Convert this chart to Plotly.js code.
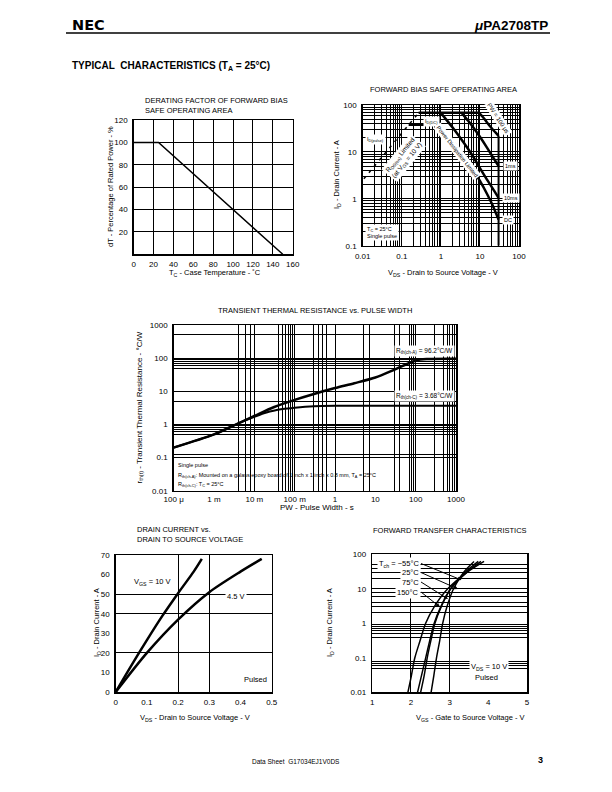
<!DOCTYPE html>
<html><head><meta charset="utf-8">
<script src="https://cdn.plot.ly/plotly-3.0.1.min.js"></script>
<style>body{margin:0;background:#fff}#c{width:612px;height:792px}</style>
</head><body><div id="c"></div>
<script>
// ---------- Chart 1: derating ----------
const derateTc = [0, 25, 150];
const deratePct = [100, 100, 0];
const derateXTicks = [0, 20, 40, 60, 80, 100, 120, 140, 160];
const derateYTicks = [20, 40, 60, 80, 100, 120];

// ---------- Chart 2: forward bias SOA ----------
const soaXTicks = [0.01, 0.1, 1, 10, 100];
const soaXTickText = ['0.01', '0.1', '1', '10', '100'];
const soaYTicks = [0.1, 1, 10, 100];
const soaYTickText = ['0.1', '1', '10', '100'];
const soaXGrid = [0.02,0.03,0.04,0.05,0.06,0.07,0.08,0.09,0.1,0.2,0.3,0.4,0.5,0.6,0.7,0.8,0.9,1,2,3,4,5,6,7,8,9,10,20,30,40,50,60,70,80,90];
const soaYGrid = [0.2,0.3,0.4,0.5,0.6,0.7,0.8,0.9,1,2,3,4,5,6,7,8,9,10,20,30,40,50,60,70,80,90];
const rdsVds = [0.0107, 0.27];
const rdsId = [2.67, 68];
const idPulseVds = [0.27, 9.5];
const idPulseId = [68, 68];
const idDcVds = [0.15, 0.9];
const idDcId = [38, 38];
const pw100Vds = [9.5, 12, 15, 20, 25, 30];
const pw100Id = [68, 55, 43, 32, 26, 22];
const pw1mVds = [3.4, 5, 7, 10, 15, 20, 30];
const pw1mId = [68, 46, 32, 21, 12.5, 8.5, 5];
const pw10mVds = [1.0, 2, 3, 5, 7, 10, 15, 20, 30];
const pw10mId = [68, 33, 21, 11.5, 7.5, 4.5, 2.6, 1.8, 1.05];
const dcVds = [0.9, 2, 3, 5, 7, 10, 15, 20, 30];
const dcId = [38, 17, 11, 6, 3.9, 2.4, 1.3, 0.8, 0.36];
const vdssVds = [30, 30];
const vdssId = [0.1, 22];

// ---------- Chart 3: transient thermal resistance ----------
const thXTicks = [1e-4, 1e-3, 1e-2, 1e-1, 1, 10, 100, 1000];
const thXTickText = ['100 \u03bc', '1 m', '10 m', '100 m', '1', '10', '100', '1000'];
const thYTicks = [0.01, 0.1, 1, 10, 100, 1000];
const thYTickText = ['0.01', '0.1', '1', '10', '100', '1000'];
const thXGrid = [0.004,0.006,0.008,0.01,0.04,0.05,0.06,0.07,0.08,0.09,0.1,0.3,0.4,0.5,0.6,1,5,7,30,40,70,80,90,100,300,500,600,700,800,900];
const thYGrid = [0.1,0.12,0.5,0.6,0.7,0.8,0.9,1,5,10,50,60,70,80,90,100,500];
const pw = [1e-4, 1e-3, 4e-3, 1e-2, 3e-2, 0.1, 0.3, 1, 3, 10, 30, 100, 200, 1000];
const rthChA = [0.2, 0.5, 1.08, 1.8, 3.3, 5.5, 8.3, 12.5, 17.5, 26, 45, 85, 94, 96.2];
const pwC = [1e-4, 1e-3, 4e-3, 1e-2, 2e-2, 5e-2, 0.1, 0.3, 1, 10, 1000];
const rthChC = [0.2, 0.5, 1.08, 1.7, 2.3, 2.9, 3.2, 3.55, 3.66, 3.68, 3.68];

// ---------- Chart 4: drain current vs VDS ----------
const vdsTicks = [0, 0.1, 0.2, 0.3, 0.4, 0.5];
const vdsTickText = ['0', '0.1', '0.2', '0.3', '0.4', '0.5'];
const idTicks = [0, 10, 20, 30, 40, 50, 60, 70];
const vdsGrid = [0.2, 0.3];
const idGrid = [20, 40, 50];
const vds10 = [0, 0.05, 0.1, 0.15, 0.2, 0.25, 0.276];
const id10 = [0, 13.5, 26.5, 39, 50.5, 61.5, 68];
const vds45 = [0, 0.1, 0.2, 0.3, 0.4, 0.468];
const id45 = [0, 20, 37, 51, 61.5, 68];

// ---------- Chart 5: forward transfer ----------
const vgsTicks = [1, 2, 3, 4, 5];
const ftYTicks = [0.01, 0.1, 1, 10, 100];
const ftYTickText = ['0.01', '0.1', '1', '10', '100'];
const vgsGrid = [2, 3];
const ftYGrid = [0.05,0.06,0.07,0.08,0.4,0.5,0.6,0.7,0.8,0.9,2,3,4,6,8,10,20,30,40,50];
const ftId = [0.01, 0.03, 0.1, 0.3, 1, 3, 10, 30, 62];
const vgsM55 = [2.52, 2.59, 2.66, 2.74, 2.82, 2.93, 3.10, 3.36, 3.63];
const vgs25 = [2.25, 2.34, 2.42, 2.51, 2.62, 2.78, 3.02, 3.40, 3.74];
const vgs75 = [2.17, 2.27, 2.38, 2.48, 2.60, 2.77, 3.03, 3.44, 3.81];
const vgs150 = [1.92, 2.01, 2.10, 2.23, 2.38, 2.60, 2.95, 3.45, 3.89];

// ================= rendering =================
const F = 'Liberation Sans, Arial, Helvetica, sans-serif';
const W = 612, H = 792;
const PX = x => x / W, PY = y => 1 - y / H;
const K = '#000';

function axis(l, r, extra) {
  return Object.assign({
    domain: [l / W, r / W], showline: true, mirror: true, linecolor: K, linewidth: 1.5,
    ticks: '', zeroline: false, showgrid: true, gridcolor: K, gridwidth: 1,
    tickfont: {family: F, size: 8, color: K}, fixedrange: true, ticklabelstandoff: 2
  }, extra);
}
function yaxis(top, bottom, extra) {
  return Object.assign({
    domain: [1 - bottom / H, 1 - top / H], showline: true, mirror: true, linecolor: K, linewidth: 1.5,
    ticks: '', zeroline: false, showgrid: true, gridcolor: K, gridwidth: 1,
    tickfont: {family: F, size: 8, color: K}, fixedrange: true, ticklabelstandoff: 3
  }, extra);
}
function minor(vals) { return {tickmode: 'array', tickvals: vals, showgrid: true, gridcolor: K, gridwidth: 1, ticks: ''}; }

const traces = [];
function line(x, y, xa, ya, w, dash, smooth) {
  traces.push({x, y, xaxis: xa, yaxis: ya, mode: 'lines',
    line: {color: K, width: w, dash: dash || 'solid', shape: smooth ? 'spline' : 'linear', smoothing: smooth || 0},
    hoverinfo: 'skip', cliponaxis: true});
}
// chart 1
line(derateTc, deratePct, 'x', 'y', 1.5);
// chart 2
line(rdsVds, rdsId, 'x2', 'y2', 1.5, '3px,5px');
line(idPulseVds, idPulseId, 'x2', 'y2', 2.5);
line(idDcVds, idDcId, 'x2', 'y2', 2.5);
line(pw100Vds, pw100Id, 'x2', 'y2', 2.5, null, 0.8);
line(pw1mVds, pw1mId, 'x2', 'y2', 2.5, null, 0.8);
line(pw10mVds, pw10mId, 'x2', 'y2', 2.5, null, 0.8);
line(dcVds, dcId, 'x2', 'y2', 2.5, null, 0.8);
line(vdssVds, vdssId, 'x2', 'y2', 2);
// chart 3
line(pw, rthChA, 'x3', 'y3', 2.5, null, 0.8);
line(pwC, rthChC, 'x3', 'y3', 2, null, 0.8);
// chart 4
line(vds10, id10, 'x4', 'y4', 2.5, null, 0.8);
line(vds45, id45, 'x4', 'y4', 2.5, null, 0.8);
// chart 5
line(vgsM55, ftId, 'x5', 'y5', 1.5, null, 0.8);
line(vgs25, ftId, 'x5', 'y5', 1.5, null, 0.8);
line(vgs75, ftId, 'x5', 'y5', 1.5, null, 0.8);
line(vgs150, ftId, 'x5', 'y5', 1.5, null, 0.8);

const ann = [];
function T(text, x, y, o) {
  ann.push(Object.assign({text, x: PX(x), y: PY(y), xref: 'paper', yref: 'paper', showarrow: false,
    font: {family: F, size: 7.5, color: K}, xanchor: 'center', yanchor: 'middle'}, o || {}));
}
// header
T('NEC', 70, 25, {xanchor: 'left', font: {family: 'DejaVu Sans, ' + F, size: 14.5, color: K, weight: 'bold'}});
T('<i>\u03bc</i>PA2708TP', 550, 25, {xanchor: 'right', font: {family: F, size: 13.5, color: K, weight: 'bold'}});
T('TYPICAL  CHARACTERISTICS (T<sub>A</sub> = 25\u00b0C)', 70, 66, {xanchor: 'left', font: {family: F, size: 10, color: K, weight: 'bold'}});
T('Data Sheet  G17034EJ1V0DS', 296, 761, {font: {family: F, size: 6.5, color: K}});
T('3', 540, 760, {font: {family: F, size: 9, color: K, weight: 'bold'}});

// chart 1 texts
T('DERATING FACTOR OF FORWARD BIAS<br>SAFE OPERATING AREA', 143, 105, {xanchor: 'left', align: 'left'});
T('dT - Percentage of Rated Power - %', 110, 187, {textangle: -90});
T('T<sub>C</sub> - Case Temperature - \u02daC', 215, 272.5);
// chart 2 texts
T('FORWARD BIAS SAFE OPERATING AREA', 443, 89.5);
T('I<sub>D</sub> - Drain Current - A', 337, 175, {textangle: -90});
T('V<sub>DS</sub> - Drain to Source Voltage - V', 443, 272.5);
const sm = {family: F, size: 5.5, color: K};
T('I<sub>D(pulse)</sub>', 375, 139.5, {font: sm, bgcolor: '#fff'});
T('I<sub>D(DC)</sub>', 431.5, 121, {font: sm, bgcolor: '#fff'});
T('R<sub>DS(on)</sub> Limited<br>(at V<sub>GS</sub> = 10 V)', 403, 158, {font: {family: F, size: 6.5, color: K}, textangle: -51, bgcolor: '#fff'});
T('Power Dissipation Limited', 457, 151, {font: sm, textangle: 52, bgcolor: '#fff'});
T('PW = 100 \u03bcs', 498, 118, {font: {family: F, size: 6, color: K}, textangle: 57, bgcolor: '#fff'});
T('1ms', 510.5, 166, {font: sm, bgcolor: '#fff'});
T('10ms', 510.5, 197.5, {font: sm, bgcolor: '#fff'});
T('DC', 507.5, 220, {font: sm, bgcolor: '#fff'});
T('T<sub>C</sub> = 25\u00b0C<br>Single pulse', 365, 233, {xanchor: 'left', align: 'left', font: sm, bgcolor: '#fff'});
// chart 3 texts
T('TRANSIENT THERMAL RESISTANCE vs. PULSE WIDTH', 315, 310.5);
T('r<sub>th(t)</sub> - Transient Thermal Resistance - \u00b0C/W', 139.5, 408, {textangle: -90, font: {family: F, size: 8, color: K}});
T('PW - Pulse Width - s', 316.5, 507, {font: {family: F, size: 8, color: K}});
T('R<sub>th(ch-A)</sub> = 96.2\u00b0C/W', 455, 351, {xanchor: 'right', font: {family: F, size: 6.5, color: K}, bgcolor: '#fff'});
T('R<sub>th(ch-C)</sub> = 3.68\u00b0C/W', 455, 396, {xanchor: 'right', font: {family: F, size: 6.5, color: K}, bgcolor: '#fff'});
T('Single pulse', 176, 464.5, {xanchor: 'left', font: {family: F, size: 5.5, color: K}});
T('R<sub>th(ch-A)</sub>: Mounted on a galass epoxy board of 1 inch x 1 inch x 0.8 mm, T<sub>A</sub> = 25\u00b0C', 176, 475.5, {xanchor: 'left', font: {family: F, size: 5.5, color: K}});
T('R<sub>th(ch-C)</sub>: T<sub>C</sub> = 25\u00b0C', 176, 484.5, {xanchor: 'left', font: {family: F, size: 5.5, color: K}});
// chart 4 texts
T('DRAIN CURRENT vs.<br>DRAIN TO SOURCE VOLTAGE', 135, 534, {xanchor: 'left', align: 'left'});
T('I<sub>D</sub> - Drain Current - A', 97, 623, {textangle: -90});
T('V<sub>DS</sub> - Drain to Source Voltage - V', 195, 718);
T('V<sub>GS</sub> = 10 V', 152, 582, {bgcolor: '#fff'});
T('4.5 V', 236, 596.5, {bgcolor: '#fff'});
T('Pulsed', 269, 679, {xanchor: 'right'});
// chart 5 texts
T('FORWARD TRANSFER CHARACTERISTICS', 450, 530);
T('I<sub>D</sub> - Drain Current - A', 330, 623, {textangle: -90});
T('V<sub>GS</sub> - Gate to Source Voltage - V', 470, 718);
T('V<sub>DS</sub> = 10 V', 488.5, 667, {bgcolor: '#fff'});
T('Pulsed', 487, 677.5, {bgcolor: '#fff'});
function A(text, lx, ly, tx, ty) {
  ann.push({text, xref: 'paper', yref: 'paper', x: PX(tx), y: PY(ty), ax: lx - tx, ay: ly - ty,
    showarrow: true, arrowhead: 2, arrowsize: 0.8, arrowwidth: 1, arrowcolor: K,
    xanchor: 'right', yanchor: 'middle', font: {family: F, size: 7.5, color: K}, bgcolor: '#fff'});
}
A('T<sub>ch</sub> = \u221255\u00b0C', 421, 563.5, 461.5, 580);
A('25\u00b0C', 421, 572.5, 458, 589);
A('75\u00b0C', 421, 582, 448, 599);
A('150\u00b0C', 421, 592, 440, 607);

const layout = {
  width: W, height: H, margin: {l: 0, r: 0, t: 0, b: 0}, paper_bgcolor: '#fff', plot_bgcolor: '#fff',
  showlegend: false, font: {family: F, color: K},
  xaxis: axis(133.7, 292.7, {anchor: 'y', range: [0, 160], tickmode: 'array', tickvals: derateXTicks}),
  yaxis: yaxis(120, 254.3, {anchor: 'x', range: [0, 120], tickmode: 'array', tickvals: derateYTicks}),
  xaxis2: axis(362.7, 519, {anchor: 'y2', type: 'log', range: [-2, 2], tickmode: 'array', tickvals: soaXTicks, ticktext: soaXTickText, showgrid: false, minor: minor(soaXGrid)}),
  yaxis2: yaxis(105, 245.7, {anchor: 'x2', type: 'log', range: [-1, 2], tickmode: 'array', tickvals: soaYTicks, ticktext: soaYTickText, showgrid: false, minor: minor(soaYGrid)}),
  xaxis3: axis(173.7, 456, {anchor: 'y3', type: 'log', range: [-4, 3], tickmode: 'array', tickvals: thXTicks, ticktext: thXTickText, showgrid: false, minor: minor(thXGrid), ticklabelstandoff: 0}),
  yaxis3: yaxis(325, 490.7, {anchor: 'x3', type: 'log', range: [-2, 3], tickmode: 'array', tickvals: thYTicks, ticktext: thYTickText, showgrid: false, minor: minor(thYGrid)}),
  xaxis4: axis(115.7, 271.7, {anchor: 'y4', range: [0, 0.5], tickmode: 'array', tickvals: vdsTicks, ticktext: vdsTickText, showgrid: false, minor: minor(vdsGrid)}),
  yaxis4: yaxis(555, 692, {anchor: 'x4', range: [0, 70], tickmode: 'array', tickvals: idTicks, showgrid: false, minor: minor(idGrid)}),
  xaxis5: axis(372.3, 527, {anchor: 'y5', range: [1, 5], tickmode: 'array', tickvals: vgsTicks, showgrid: false, minor: minor(vgsGrid)}),
  yaxis5: yaxis(554.3, 692.3, {anchor: 'x5', type: 'log', range: [-2, 2], tickmode: 'array', tickvals: ftYTicks, ticktext: ftYTickText, showgrid: false, minor: minor(ftYGrid)}),
  annotations: ann,
  shapes: [{type: 'line', xref: 'paper', yref: 'paper', x0: PX(66), x1: PX(550), y0: PY(33), y1: PY(33), line: {color: K, width: 1.5}}]
};
Plotly.newPlot('c', traces, layout, {staticPlot: true, displayModeBar: false});
</script></body></html>
